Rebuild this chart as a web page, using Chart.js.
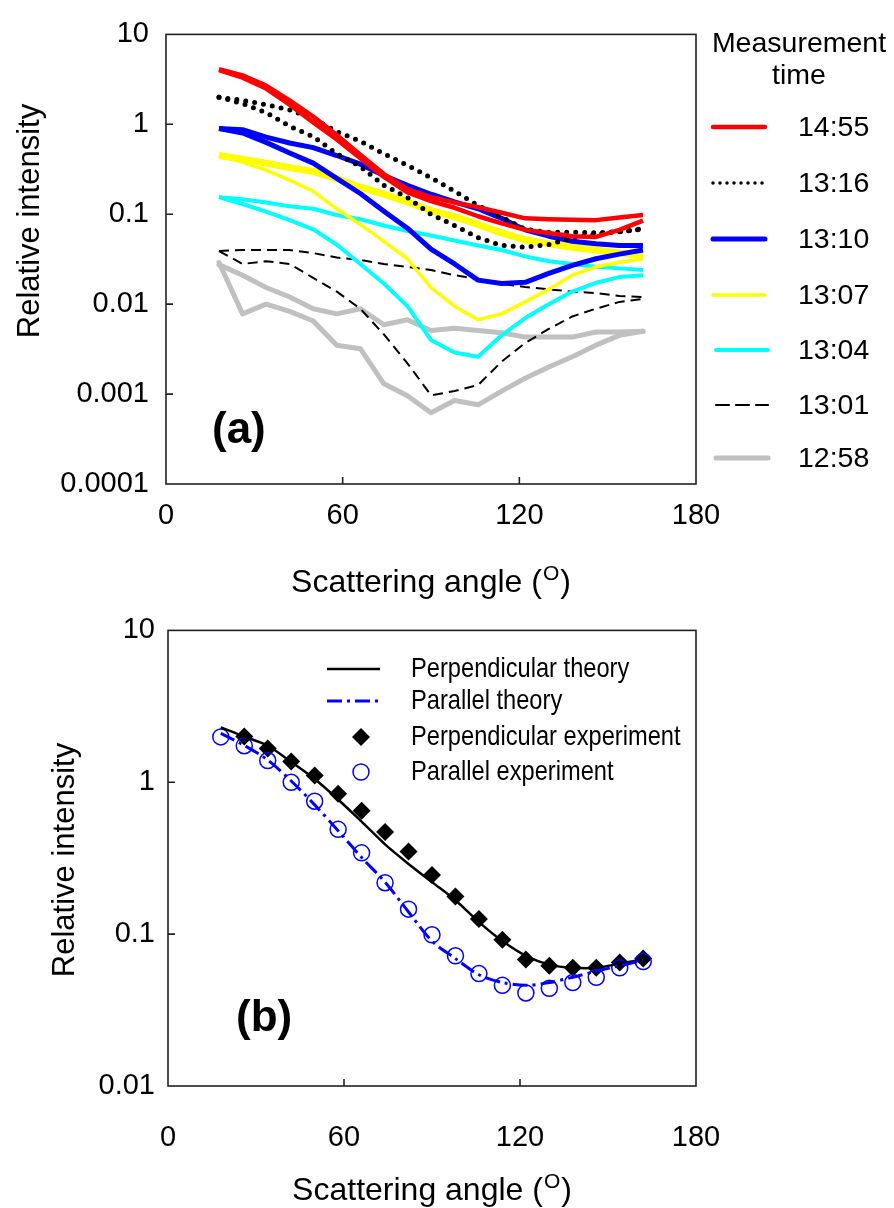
<!DOCTYPE html>
<html><head><meta charset="utf-8">
<script src="https://cdn.jsdelivr.net/npm/chart.js@4.4.1/dist/chart.umd.min.js"></script>
<style>
html,body{margin:0;padding:0;background:#fff;width:894px;height:1208px;overflow:hidden}
canvas{position:absolute;left:0}
#ca{top:0}
#cb{top:600px}
</style></head><body>
<canvas id="ca" width="894" height="600"></canvas>
<canvas id="cb" width="894" height="608"></canvas>
<script>
// ---------- data ----------
const angles = [18,26,34,42,50,58,66,74,82,90,98,106,114,122,130,138,146,154,162];
const xTickValues = [0,60,120,180];
const xTickLabels = ['0','60','120','180'];
const yTickValuesA = [0.0001,0.001,0.01,0.1,1,10];
const yTickLabelsA = ['0.0001','0.001','0.01','0.1','1','10'];
const yTickValuesB = [0.01,0.1,1,10];
const yTickLabelsB = ['0.01','0.1','1','10'];
const timeLabels = ['14:55','13:16','13:10','13:07','13:04','13:01','12:58'];

const r1455a = [4.1,3.5,2.7,1.85,1.22,0.76,0.46,0.28,0.19,0.155,0.135,0.12,0.104,0.09,0.088,0.087,0.086,0.092,0.098];
const r1455b = [4.0,3.3,2.5,1.65,1.05,0.68,0.42,0.26,0.175,0.14,0.118,0.095,0.079,0.067,0.062,0.057,0.056,0.067,0.085];
const d1316a = [2.0,1.85,1.65,1.45,1.15,0.83,0.65,0.47,0.35,0.255,0.18,0.125,0.093,0.068,0.063,0.063,0.062,0.064,0.069];
const d1316b = [2.0,1.7,1.35,0.95,0.73,0.47,0.34,0.21,0.153,0.10,0.075,0.055,0.045,0.043,0.046,0.055,0.06,0.064,0.068];
const b1310a = [0.9,0.87,0.72,0.62,0.55,0.45,0.36,0.27,0.21,0.167,0.137,0.115,0.09,0.067,0.057,0.05,0.047,0.045,0.045];
const b1310b = [0.9,0.8,0.63,0.48,0.37,0.25,0.17,0.108,0.07,0.041,0.028,0.0185,0.017,0.0175,0.022,0.027,0.032,0.036,0.040];
const y1307a = [0.45,0.41,0.37,0.33,0.3,0.25,0.2,0.167,0.137,0.11,0.094,0.077,0.062,0.052,0.047,0.043,0.040,0.037,0.035];
const y1307b = [0.45,0.38,0.31,0.24,0.18,0.115,0.077,0.05,0.032,0.0153,0.0095,0.0067,0.0078,0.0106,0.0146,0.021,0.026,0.029,0.032];
const c1304a = [0.155,0.147,0.135,0.123,0.115,0.098,0.088,0.075,0.065,0.058,0.051,0.045,0.04,0.034,0.03,0.028,0.026,0.025,0.024];
const c1304b = [0.155,0.13,0.107,0.086,0.068,0.046,0.028,0.017,0.0095,0.0040,0.0029,0.0026,0.0045,0.0070,0.0100,0.0138,0.0173,0.020,0.021];
const k1301a = [0.039,0.040,0.040,0.040,0.037,0.033,0.031,0.028,0.026,0.024,0.021,0.019,0.0168,0.0155,0.0146,0.0138,0.0133,0.0123,0.012];
const k1301b = [0.039,0.028,0.030,0.028,0.0196,0.0138,0.0089,0.0046,0.0022,0.00097,0.00108,0.00126,0.0023,0.0037,0.0053,0.0073,0.0089,0.0106,0.0114];
const g1258a = [0.0275,0.021,0.0153,0.012,0.0089,0.0078,0.0089,0.0059,0.0067,0.0051,0.0054,0.0051,0.0048,0.0043,0.0043,0.0043,0.0049,0.0049,0.0050];
const g1258b = [0.029,0.0078,0.0100,0.0083,0.0065,0.0035,0.0032,0.0013,0.00096,0.00062,0.00085,0.00076,0.00108,0.0015,0.0020,0.0026,0.0035,0.0045,0.005];

const perpTheory = [2.3,2.0,1.74,1.36,1.05,0.77,0.55,0.39,0.29,0.22,0.167,0.12,0.09,0.072,0.063,0.060,0.060,0.064,0.068];
const paraTheory = [2.1,1.75,1.4,1.02,0.71,0.48,0.32,0.22,0.14,0.09,0.069,0.054,0.048,0.046,0.048,0.052,0.057,0.062,0.067];
const perpExp = [null,2.0,1.67,1.37,1.11,0.84,0.65,0.47,0.35,0.245,0.177,0.126,0.092,0.068,0.062,0.060,0.060,0.065,0.069];
const paraExp = [1.99,1.74,1.39,1.0,0.75,0.49,0.343,0.218,0.146,0.099,0.072,0.055,0.046,0.041,0.044,0.048,0.052,0.060,0.066];
const legendB = ['Perpendicular theory','Parallel theory','Perpendicular experiment','Parallel experiment'];

// ---------- helpers ----------
const FONT = '"Liberation Sans", Arial, Helvetica, sans-serif';
const TICK_SIZE = 29;
const pts = arr => angles.map((x,i)=>({x:x, y:arr[i]})).filter(p=>p.y!==null);

// styles per measurement time (legend order)
const timeStyles = [
  {color:'#FF0000', w:[4.5,4.5], lw:4.5, dash:[], cap:'butt'},
  {color:'#000000', w:[5,5], lw:3.5, dash:[0,9], ldash:[0,7], cap:'round'},
  {color:'#0000FF', w:[5,5], lw:5, dash:[], cap:'butt'},
  {color:'#FFFF00', w:[7,3.5], lw:3.5, dash:[], cap:'butt'},
  {color:'#00FFFF', w:[4,4], lw:4, dash:[], cap:'butt'},
  {color:'#000000', w:[2,2], lw:2.2, dash:[10,6], ldash:[13,7], cap:'butt'},
  {color:'#C0C0C0', w:[5,5], lw:5, dash:[], cap:'round'}
];
const seriesA = [[r1455a,r1455b],[d1316a,d1316b],[b1310a,b1310b],[y1307a,y1307b],[c1304a,c1304b],[k1301a,k1301b],[g1258a,g1258b]];

const dsA = [];
seriesA.forEach((pair,ti)=>{
  const s = timeStyles[ti];
  pair.forEach((arr,k)=>{
    dsA.push({label: timeLabels[ti], data: pts(arr), borderColor: s.color, backgroundColor: s.color,
      borderWidth: s.w[k], borderDash: s.dash, borderCapStyle: s.cap, borderJoinStyle: 'round',
      pointRadius: 0, tension: 0, fill: false});
  });
});

function drawFrame(chart, yTickVals, ctx) {
  const a = chart.chartArea, xs = chart.scales.x, ys = chart.scales.y;
  ctx.save();
  ctx.strokeStyle = '#222'; ctx.lineWidth = 1.6;
  ctx.strokeRect(a.left, a.top, a.right - a.left, a.bottom - a.top);
  ctx.beginPath();
  yTickVals.forEach(v=>{
    const p = ys.getPixelForValue(v);
    if (p > a.top + 2 && p < a.bottom - 2) { ctx.moveTo(a.left, p); ctx.lineTo(a.left + 7, p); }
  });
  xTickValues.forEach(v=>{
    const p = xs.getPixelForValue(v);
    if (p > a.left + 2 && p < a.right - 2) { ctx.moveTo(p, a.bottom); ctx.lineTo(p, a.bottom - 7); }
  });
  ctx.stroke();
  ctx.restore();
}
function drawXTitle(ctx, cx, cy) {
  const f1 = '32px ' + FONT, f2 = '21px ' + FONT;
  const t1 = 'Scattering angle (', t2 = 'O', t3 = ')';
  ctx.save();
  ctx.fillStyle = '#000'; ctx.textBaseline = 'alphabetic'; ctx.textAlign = 'left';
  ctx.font = f1; const w1 = ctx.measureText(t1).width, w3 = ctx.measureText(t3).width;
  ctx.font = f2; const w2 = ctx.measureText(t2).width;
  let x = cx - (w1 + w2 + w3 + 2) / 2; const base = cy + 12;
  ctx.font = f1; ctx.fillText(t1, x, base); x += w1 + 1;
  ctx.font = f2; ctx.fillText(t2, x, base - 12); x += w2 + 1;
  ctx.font = f1; ctx.fillText(t3, x, base);
  ctx.restore();
}
function drawYTitle(ctx, cx, cy) {
  ctx.save();
  ctx.translate(cx, cy); ctx.rotate(-Math.PI/2);
  ctx.font = '31px ' + FONT; ctx.fillStyle = '#000';
  ctx.textAlign = 'center'; ctx.textBaseline = 'middle';
  ctx.fillText('Relative intensity', 0, 0);
  ctx.restore();
}

const plugA = {
  id: 'plugA',
  afterDraw(chart) {
    const ctx = chart.ctx;
    drawFrame(chart, yTickValuesA, ctx);
    drawYTitle(ctx, 30, 221);
    drawXTitle(ctx, 431, 580);
    ctx.save();
    ctx.font = 'bold 44px ' + FONT; ctx.fillStyle = '#000';
    ctx.textAlign = 'left'; ctx.textBaseline = 'middle';
    ctx.fillText('(a)', 212, 431);
    // legend
    ctx.font = '28.5px ' + FONT; ctx.textAlign = 'center';
    ctx.fillText('Measurement', 799, 44);
    ctx.fillText('time', 799, 76);
    const ys = [127,183,239,295,350,405,458];
    ctx.textAlign = 'left';
    timeLabels.forEach((t,i)=>{
      const s = timeStyles[i];
      ctx.save();
      ctx.strokeStyle = s.color; ctx.lineWidth = s.lw;
      ctx.setLineDash(s.ldash || []); ctx.lineCap = 'round';
      ctx.beginPath(); ctx.moveTo(713 + (i>3?3:0), ys[i]); ctx.lineTo(765 + (i>3?3:0), ys[i]); ctx.stroke();
      ctx.restore();
      ctx.fillStyle = '#000';
      ctx.fillText(t, 798, ys[i] + 1);
    });
    ctx.restore();
  }
};

new Chart(document.getElementById('ca'), {
  type: 'line',
  data: { datasets: dsA },
  options: {
    responsive: false, animation: false, devicePixelRatio: 1,
    layout: { padding: { left: 0, right: 198, top: 17, bottom: 0 } },
    plugins: { legend: { display: false }, tooltip: { enabled: false } },
    scales: {
      x: { type: 'linear', min: 0, max: 180,
        grid: { display: false, drawTicks: false }, border: { display: false },
        afterBuildTicks: s => { s.ticks = xTickValues.map(v=>({value:v})); },
        afterFit: s => { s.height = 116; },
        ticks: { padding: 15, color: '#000', font: { family: FONT, size: TICK_SIZE }, maxRotation: 0, autoSkip: false,
          callback: v => xTickLabels[xTickValues.indexOf(v)] } },
      y: { type: 'logarithmic', min: 0.0001, max: 10,
        grid: { display: false, drawTicks: false }, border: { display: false },
        afterBuildTicks: s => { s.ticks = yTickValuesA.map(v=>({value:v})); },
        afterFit: s => { s.width = 166; },
        ticks: { padding: 17, color: '#000', font: { family: FONT, size: TICK_SIZE }, autoSkip: false,
          callback: v => { const i = yTickValuesA.indexOf(v); return i >= 0 ? yTickLabelsA[i] : ''; } } }
    }
  },
  plugins: [plugA]
});

// ---------- panel (b) ----------
const styleB = {
  perpT: {color:'#000000', w:2.5},
  paraT: {color:'#0000FF', w:3, dash:[15,5,3,5]},
  perpE: {color:'#000000', r:9},
  paraE: {color:'#0000FF', r:8, w:1.5}
};
const dsB = [
  {label: legendB[1], data: pts(paraTheory), borderColor: styleB.paraT.color, borderWidth: styleB.paraT.w,
   borderDash: styleB.paraT.dash, pointRadius: 0, tension: 0.3, fill: false},
  {label: legendB[0], data: pts(perpTheory), borderColor: styleB.perpT.color, borderWidth: styleB.perpT.w,
   pointRadius: 0, tension: 0.3, fill: false},
  {label: legendB[3], data: pts(paraExp), showLine: false, pointStyle: 'circle', pointRadius: styleB.paraE.r,
   pointBorderWidth: styleB.paraE.w, pointBorderColor: styleB.paraE.color, pointBackgroundColor: 'rgba(0,0,0,0)',
   borderColor: styleB.paraE.color},
  {label: legendB[2], data: pts(perpExp), showLine: false, pointStyle: 'rectRot', pointRadius: styleB.perpE.r,
   pointBorderWidth: 0, pointBackgroundColor: styleB.perpE.color, pointBorderColor: styleB.perpE.color,
   borderColor: styleB.perpE.color}
];

const plugB = {
  id: 'plugB',
  afterDraw(chart) {
    const ctx = chart.ctx;
    drawFrame(chart, yTickValuesB, ctx);
    drawYTitle(ctx, 65, 260);
    drawXTitle(ctx, 432, 588);
    ctx.save();
    ctx.font = 'bold 44px ' + FONT; ctx.fillStyle = '#000';
    ctx.textAlign = 'left'; ctx.textBaseline = 'middle';
    ctx.fillText('(b)', 236, 419);
    // legend
    const ys = [69,101,137,172];
    ctx.strokeStyle = styleB.perpT.color; ctx.lineWidth = styleB.perpT.w;
    ctx.beginPath(); ctx.moveTo(327, ys[0]); ctx.lineTo(380, ys[0]); ctx.stroke();
    ctx.strokeStyle = styleB.paraT.color; ctx.lineWidth = styleB.paraT.w; ctx.setLineDash(styleB.paraT.dash);
    ctx.beginPath(); ctx.moveTo(327, ys[1]); ctx.lineTo(380, ys[1]); ctx.stroke();
    ctx.setLineDash([]);
    const r = styleB.perpE.r;
    ctx.fillStyle = styleB.perpE.color;
    ctx.beginPath(); ctx.moveTo(361 - r, ys[2]); ctx.lineTo(361, ys[2] - r); ctx.lineTo(361 + r, ys[2]); ctx.lineTo(361, ys[2] + r); ctx.closePath(); ctx.fill();
    ctx.strokeStyle = styleB.paraE.color; ctx.lineWidth = styleB.paraE.w;
    ctx.beginPath(); ctx.arc(361, ys[3], styleB.paraE.r, 0, Math.PI*2); ctx.stroke();
    ctx.fillStyle = '#000'; ctx.font = '28px ' + FONT; ctx.textAlign = 'left'; ctx.textBaseline = 'middle';
    legendB.forEach((t,i)=>{
      ctx.save(); ctx.translate(411, ys[i]); ctx.scale(0.845, 1);
      ctx.fillText(t, 0, 0); ctx.restore();
    });
    ctx.restore();
  }
};

new Chart(document.getElementById('cb'), {
  type: 'line',
  data: { datasets: dsB },
  options: {
    responsive: false, animation: false, devicePixelRatio: 1,
    layout: { padding: { left: 0, right: 198, top: 28, bottom: 0 } },
    plugins: { legend: { display: false }, tooltip: { enabled: false } },
    scales: {
      x: { type: 'linear', min: 0, max: 180,
        grid: { display: false, drawTicks: false }, border: { display: false },
        afterBuildTicks: s => { s.ticks = xTickValues.map(v=>({value:v})); },
        afterFit: s => { s.height = 122; },
        ticks: { padding: 35, color: '#000', font: { family: FONT, size: TICK_SIZE }, maxRotation: 0, autoSkip: false,
          callback: v => xTickLabels[xTickValues.indexOf(v)] } },
      y: { type: 'logarithmic', min: 0.01, max: 10,
        grid: { display: false, drawTicks: false }, border: { display: false },
        afterBuildTicks: s => { s.ticks = yTickValuesB.map(v=>({value:v})); },
        afterFit: s => { s.width = 168; },
        ticks: { padding: 13, color: '#000', font: { family: FONT, size: TICK_SIZE }, autoSkip: false,
          callback: v => { const i = yTickValuesB.indexOf(v); return i >= 0 ? yTickLabelsB[i] : ''; } } }
    }
  },
  plugins: [plugB]
});
</script>
</body></html>
